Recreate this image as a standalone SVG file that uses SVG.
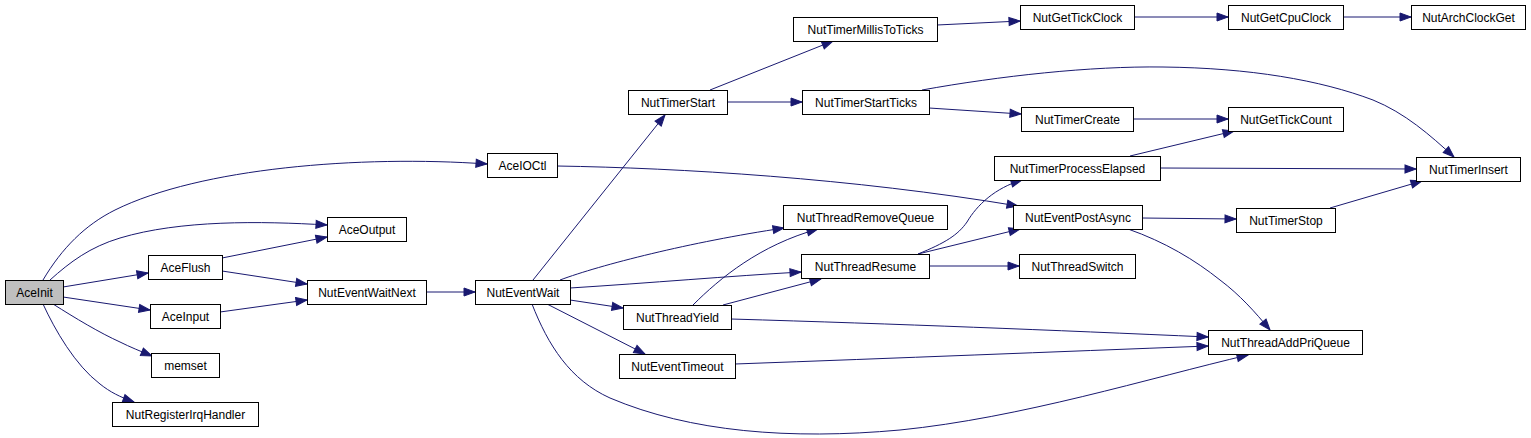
<svg xmlns="http://www.w3.org/2000/svg" width="1531" height="438" viewBox="0 0 1531 438">
<style>
.n rect{fill:#fff;stroke:#000;stroke-width:1}
.n text{font-family:"Liberation Sans",Arial,sans-serif;font-size:12px;fill:#000;text-anchor:middle}
.e path{fill:none;stroke:#191970;stroke-width:1;marker-end:url(#arr)}
</style>
<defs>
<marker id="arr" markerUnits="userSpaceOnUse" markerWidth="12" markerHeight="9" refX="11" refY="4" orient="auto" overflow="visible">
<path d="M0,0 L11,4 L0,8 z" fill="#191970" stroke="#191970" stroke-width="1"/>
</marker>
</defs>
<rect width="1531" height="438" fill="#fff"/>
<g id="edges" class="e">
<path d="M43,280 C62,248 85,225 115,210 C200,168 360,155 487,164"/>
<path d="M50,280 C70,262 90,247 120,238 C180,220 260,221 327,225"/>
<path d="M63,287 L148,273"/>
<path d="M63,297 L150,310"/>
<path d="M53,304 C75,318 100,333 120,342 C130,347 140,351 152,356"/>
<path d="M43,304 C55,330 75,365 100,384 C110,392 120,397 134,402"/>
<path d="M222,258 L327,237"/>
<path d="M222,271 L307,284"/>
<path d="M220,312 L307,300"/>
<path d="M426,292 L475,292"/>
<path d="M533,280 L665,115"/>
<path d="M557,166 C680,168 850,178 1018,206"/>
<path d="M560,280 C600,265 690,242 784,228"/>
<path d="M570,288 C650,283 730,276 801,272"/>
<path d="M570,300 L623,308"/>
<path d="M547,304 L645,354"/>
<path d="M532,304 C548,345 570,380 610,398 C690,432 790,440 900,430 C1020,418 1150,378 1248,355"/>
<path d="M710,90 L833,41"/>
<path d="M727,102 L802,102"/>
<path d="M937,25 L1020,21"/>
<path d="M1134,17 L1228,17"/>
<path d="M1343,17 L1411,17"/>
<path d="M922,90 C1000,76 1090,66 1163,67 C1250,68 1320,80 1373,100 C1405,113 1430,135 1454,157"/>
<path d="M929,108 L1021,114"/>
<path d="M1133,119 L1228,119"/>
<path d="M1130,156 L1234,131"/>
<path d="M1160,168 L1416,169"/>
<path d="M1330,208 L1422,181"/>
<path d="M1142,218 L1236,219"/>
<path d="M1128,229 C1165,242 1195,260 1220,280 C1240,295 1255,312 1270,330"/>
<path d="M918,254 C945,243 958,235 967,222 C977,205 995,188 1022,180"/>
<path d="M918,254 L1020,229"/>
<path d="M929,266 L1019,266"/>
<path d="M693,305 C720,278 760,245 818,229"/>
<path d="M723,305 L821,279"/>
<path d="M731,319 C900,324 1050,330 1208,337"/>
<path d="M735,364 C900,358 1050,352 1208,346"/>
</g>
<g id="AceInit" class="n"><rect x="5.5" y="280.5" width="58" height="24" style="fill:#bfbfbf"/><text x="34.5" y="297">AceInit</text></g>
<g id="AceIOCtl" class="n"><rect x="487.5" y="153.5" width="70" height="24"/><text x="522.5" y="170">AceIOCtl</text></g>
<g id="AceOutput" class="n"><rect x="327.5" y="217.5" width="79" height="24"/><text x="367" y="234">AceOutput</text></g>
<g id="AceFlush" class="n"><rect x="148.5" y="255.5" width="74" height="24"/><text x="185.5" y="272">AceFlush</text></g>
<g id="AceInput" class="n"><rect x="150.5" y="304.5" width="70" height="24"/><text x="185.5" y="321">AceInput</text></g>
<g id="memset" class="n"><rect x="151.5" y="353.5" width="68" height="24"/><text x="185.5" y="370">memset</text></g>
<g id="NutRegisterIrqHandler" class="n"><rect x="112.5" y="402.5" width="146" height="24"/><text x="185.5" y="419">NutRegisterIrqHandler</text></g>
<g id="NutEventWaitNext" class="n"><rect x="307.5" y="280.5" width="119" height="24"/><text x="367" y="297">NutEventWaitNext</text></g>
<g id="NutEventWait" class="n"><rect x="475.5" y="280.5" width="95" height="24"/><text x="523" y="297">NutEventWait</text></g>
<g id="NutTimerStart" class="n"><rect x="628.5" y="90.5" width="99" height="24"/><text x="678" y="107">NutTimerStart</text></g>
<g id="NutTimerMillisToTicks" class="n"><rect x="793.5" y="17.5" width="144" height="24"/><text x="865.5" y="34">NutTimerMillisToTicks</text></g>
<g id="NutTimerStartTicks" class="n"><rect x="802.5" y="90.5" width="127" height="24"/><text x="866" y="107">NutTimerStartTicks</text></g>
<g id="NutThreadRemoveQueue" class="n"><rect x="783.5" y="205.5" width="164" height="24"/><text x="865.5" y="222">NutThreadRemoveQueue</text></g>
<g id="NutThreadResume" class="n"><rect x="801.5" y="254.5" width="128" height="24"/><text x="865.5" y="271">NutThreadResume</text></g>
<g id="NutThreadYield" class="n"><rect x="623.5" y="305.5" width="108" height="24"/><text x="677.5" y="322">NutThreadYield</text></g>
<g id="NutEventTimeout" class="n"><rect x="619.5" y="354.5" width="116" height="24"/><text x="677.5" y="371">NutEventTimeout</text></g>
<g id="NutGetTickClock" class="n"><rect x="1020.5" y="5.5" width="114" height="24"/><text x="1077.5" y="22">NutGetTickClock</text></g>
<g id="NutGetCpuClock" class="n"><rect x="1228.5" y="5.5" width="115" height="24"/><text x="1286" y="22">NutGetCpuClock</text></g>
<g id="NutArchClockGet" class="n"><rect x="1411.5" y="5.5" width="114" height="24"/><text x="1468.5" y="22">NutArchClockGet</text></g>
<g id="NutTimerCreate" class="n"><rect x="1021.5" y="107.5" width="112" height="24"/><text x="1077.5" y="124">NutTimerCreate</text></g>
<g id="NutGetTickCount" class="n"><rect x="1228.5" y="107.5" width="115" height="24"/><text x="1286" y="124">NutGetTickCount</text></g>
<g id="NutTimerProcessElapsed" class="n"><rect x="994.5" y="156.5" width="166" height="24"/><text x="1077.5" y="173">NutTimerProcessElapsed</text></g>
<g id="NutTimerInsert" class="n"><rect x="1416.5" y="157.5" width="104" height="24"/><text x="1468.5" y="174">NutTimerInsert</text></g>
<g id="NutEventPostAsync" class="n"><rect x="1013.5" y="205.5" width="129" height="24"/><text x="1078" y="222">NutEventPostAsync</text></g>
<g id="NutTimerStop" class="n"><rect x="1236.5" y="208.5" width="99" height="24"/><text x="1286" y="225">NutTimerStop</text></g>
<g id="NutThreadSwitch" class="n"><rect x="1019.5" y="254.5" width="116" height="24"/><text x="1077.5" y="271">NutThreadSwitch</text></g>
<g id="NutThreadAddPriQueue" class="n"><rect x="1208.5" y="330.5" width="154" height="24"/><text x="1285.5" y="347">NutThreadAddPriQueue</text></g>
</svg>
